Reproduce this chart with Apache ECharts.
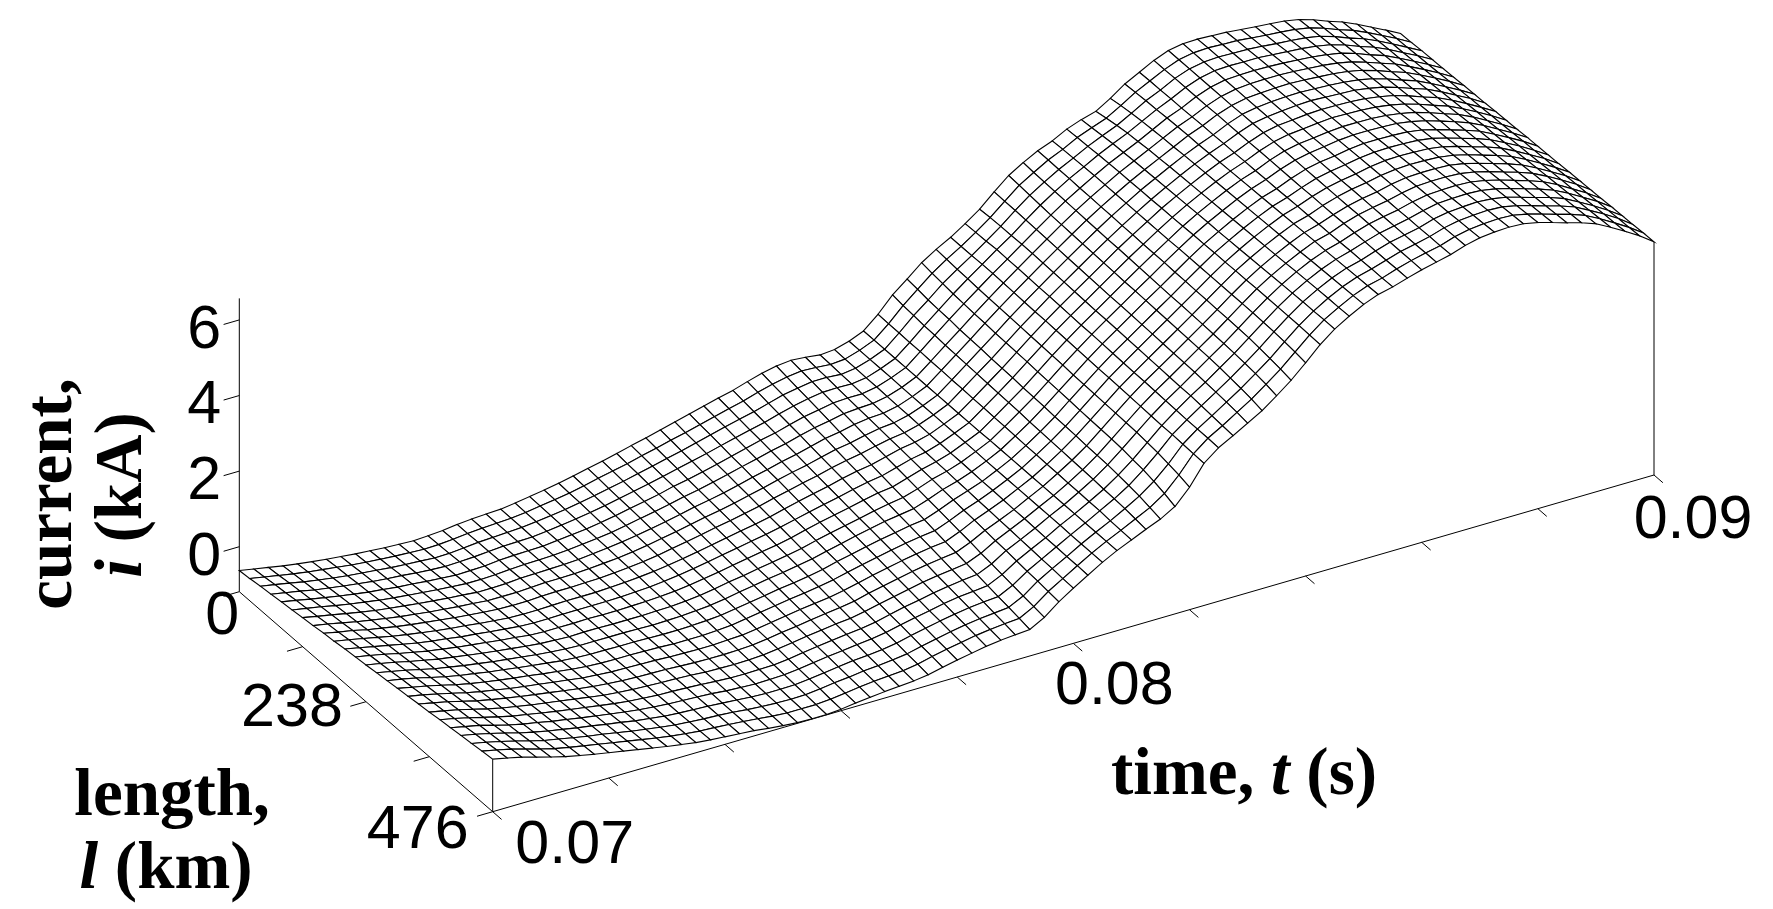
<!DOCTYPE html>
<html><head><meta charset="utf-8">
<style>html,body{margin:0;padding:0;background:#fff}#c{width:1773px;height:909px}</style>
<script src="https://cdn.jsdelivr.net/npm/echarts@6/dist/echarts.min.js"></script>
</head><body><div id="c"></div>
<script>
const timeStartS = 0.07, timeEndS = 0.09, lengthEndKm = 476;
const timeTicks = [0.07,0.072,0.074,0.076,0.078,0.08,0.082,0.084,0.086,0.088,0.09];
const timeLabels = [0.07,0.08,0.09];
const lengthTicks = [0,119,238,357,476];
const lengthLabels = [0,238,476];
const currentTicks = [0,2,4,6];
const currentFloorKA = -1.19, currentAxisTopKA = 6.57;
// current in hundredths of a kA: one inner list per time sample, from l = 0 km to l = 476 km
const currentCentiKA = [
[-63,-60,-56,-53,-49,-46,-42,-39,-35,-32,-28,-25,-22,-18,-15,-11,-8,-4,-1,3,6,10,13,17,20],
[-70,-67,-63,-60,-56,-53,-50,-46,-43,-39,-36,-32,-29,-26,-22,-19,-15,-12,-9,-5,-2,2,5,9,12],
[-77,-74,-70,-67,-64,-60,-57,-54,-50,-47,-44,-40,-37,-34,-30,-27,-24,-20,-17,-14,-10,-7,-4,0,3],
[-84,-81,-78,-75,-71,-68,-65,-62,-59,-55,-52,-49,-46,-43,-40,-36,-33,-30,-27,-24,-21,-17,-14,-11,-8],
[-90,-87,-84,-81,-78,-75,-72,-69,-66,-63,-60,-57,-54,-52,-49,-46,-43,-40,-37,-34,-31,-28,-25,-22,-19],
[-95,-92,-90,-87,-84,-81,-79,-76,-73,-70,-68,-65,-62,-59,-57,-54,-51,-48,-46,-43,-40,-37,-35,-32,-29],
[-100,-97,-95,-92,-90,-87,-84,-82,-79,-76,-74,-71,-68,-66,-63,-61,-58,-55,-53,-50,-47,-45,-42,-40,-37],
[-104,-102,-99,-97,-94,-92,-89,-87,-84,-82,-79,-77,-74,-72,-70,-67,-65,-62,-60,-57,-55,-52,-50,-47,-45],
[-108,-106,-103,-101,-99,-96,-94,-92,-89,-87,-85,-82,-80,-78,-75,-73,-71,-68,-66,-64,-61,-59,-57,-54,-52],
[-111,-109,-107,-104,-102,-100,-98,-96,-94,-91,-89,-87,-85,-83,-81,-78,-76,-74,-72,-70,-68,-65,-63,-61,-59],
[-114,-112,-110,-108,-106,-104,-102,-100,-98,-96,-94,-92,-90,-88,-86,-84,-82,-80,-78,-76,-74,-72,-70,-68,-66],
[-116,-114,-112,-111,-109,-107,-105,-103,-102,-100,-98,-96,-95,-93,-91,-89,-87,-86,-84,-82,-80,-78,-77,-75,-73],
[-118,-116,-115,-113,-112,-110,-109,-107,-105,-104,-102,-101,-99,-97,-96,-94,-93,-91,-90,-88,-86,-85,-83,-82,-80],
[-116,-115,-114,-112,-111,-110,-109,-107,-106,-105,-104,-103,-101,-100,-99,-98,-96,-95,-94,-93,-91,-90,-89,-88,-86],
[-113,-112,-111,-110,-110,-109,-108,-107,-106,-105,-104,-103,-103,-102,-101,-100,-99,-98,-97,-96,-95,-95,-94,-93,-92],
[-108,-108,-107,-107,-106,-106,-105,-105,-104,-104,-103,-103,-102,-102,-101,-101,-100,-100,-99,-99,-98,-98,-97,-97,-96],
[-105,-105,-105,-104,-104,-104,-104,-103,-103,-103,-103,-102,-102,-102,-102,-101,-101,-101,-101,-100,-100,-100,-100,-99,-99],
[-103,-103,-103,-103,-103,-103,-103,-103,-103,-103,-103,-103,-103,-102,-102,-102,-102,-102,-102,-102,-102,-102,-102,-102,-102],
[-101,-101,-101,-102,-102,-102,-102,-102,-102,-103,-103,-103,-103,-103,-103,-103,-104,-104,-104,-104,-104,-105,-105,-105,-105],
[-96,-97,-97,-98,-98,-99,-100,-100,-101,-101,-102,-102,-103,-104,-104,-105,-105,-106,-107,-107,-108,-108,-109,-109,-110],
[-90,-91,-92,-93,-94,-95,-96,-97,-98,-99,-100,-101,-102,-103,-104,-105,-106,-107,-108,-109,-110,-111,-112,-113,-114],
[-84,-85,-87,-88,-90,-91,-92,-94,-95,-96,-98,-99,-101,-102,-103,-105,-106,-107,-109,-110,-112,-113,-114,-116,-117],
[-77,-79,-80,-82,-84,-86,-87,-89,-91,-92,-94,-96,-98,-99,-101,-103,-104,-106,-108,-109,-111,-113,-115,-116,-118],
[-69,-71,-73,-75,-77,-79,-81,-83,-85,-87,-89,-91,-94,-96,-98,-100,-102,-104,-106,-108,-110,-112,-114,-116,-118],
[-60,-62,-65,-67,-69,-71,-74,-76,-78,-81,-83,-85,-88,-90,-92,-94,-97,-99,-101,-104,-106,-108,-110,-113,-115],
[-52,-54,-57,-59,-62,-64,-67,-69,-71,-74,-76,-79,-81,-83,-86,-88,-91,-93,-96,-98,-100,-103,-105,-108,-110],
[-43,-46,-48,-51,-54,-56,-59,-61,-64,-67,-69,-72,-75,-77,-80,-82,-85,-88,-90,-93,-95,-98,-101,-103,-106],
[-33,-36,-39,-42,-44,-47,-50,-53,-56,-59,-62,-65,-68,-70,-73,-76,-79,-82,-85,-88,-91,-93,-96,-99,-102],
[-24,-27,-30,-33,-37,-40,-43,-46,-49,-52,-55,-58,-62,-65,-68,-71,-74,-77,-80,-83,-86,-90,-93,-96,-99],
[-14,-17,-21,-24,-28,-31,-35,-38,-41,-45,-48,-52,-55,-58,-62,-65,-69,-72,-76,-79,-82,-86,-89,-93,-96],
[-4,-8,-11,-15,-19,-22,-26,-29,-33,-37,-40,-44,-48,-51,-55,-58,-62,-66,-69,-73,-76,-80,-84,-87,-91],
[6,2,-1,-5,-9,-12,-16,-20,-23,-27,-31,-34,-38,-42,-45,-49,-53,-56,-60,-64,-67,-71,-75,-78,-82],
[16,12,9,5,1,-3,-7,-10,-14,-18,-22,-25,-29,-33,-37,-40,-44,-48,-52,-55,-59,-63,-67,-70,-74],
[26,22,18,14,11,7,3,-1,-5,-9,-13,-17,-21,-24,-28,-32,-36,-40,-44,-48,-52,-55,-59,-63,-67],
[35,31,27,23,19,15,11,7,3,-1,-5,-9,-13,-16,-20,-24,-28,-32,-36,-40,-44,-48,-52,-56,-60],
[47,43,38,34,30,26,21,17,13,9,4,0,-4,-8,-13,-17,-21,-25,-30,-34,-38,-42,-47,-51,-55],
[58,53,49,44,40,35,31,26,21,17,12,8,3,-2,-6,-11,-15,-20,-25,-29,-34,-38,-43,-47,-52],
[66,61,56,52,47,42,37,32,28,23,18,13,9,4,-1,-6,-11,-15,-20,-25,-30,-35,-39,-44,-49],
[70,66,62,58,54,50,46,41,37,33,29,25,21,17,13,9,5,1,-4,-8,-12,-16,-20,-24,-28],
[67,64,62,59,56,53,51,48,45,43,40,37,35,32,29,26,24,21,18,16,13,10,8,5,2],
[62,61,59,58,56,55,53,52,50,49,47,46,45,43,42,40,39,37,36,34,33,31,30,28,27],
[65,64,64,63,63,62,61,61,60,59,59,58,58,57,56,56,55,54,54,53,52,52,51,51,50],
[76,76,76,76,76,75,75,75,75,75,75,75,75,74,74,74,74,74,74,74,74,73,73,73,73],
[92,92,92,92,92,92,92,92,92,92,92,92,93,93,93,93,93,93,93,93,93,93,93,93,93],
[125,124,124,123,123,122,122,121,121,120,120,119,119,118,117,117,116,116,115,115,114,114,112,111,110],
[165,161,159,156,155,153,152,151,150,149,148,147,146,144,143,142,141,140,139,138,136,135,133,130,127],
[196,193,189,187,186,183,182,181,179,178,177,175,174,173,171,170,169,167,166,165,162,159,155,149,143],
[228,224,221,218,216,214,213,211,210,209,208,206,205,204,203,201,200,199,198,196,192,189,183,175,165],
[252,250,248,247,245,244,243,242,241,240,239,238,237,235,234,233,232,231,230,229,226,223,218,213,205],
[273,273,273,274,274,273,272,271,270,270,269,268,267,266,265,265,264,263,262,261,260,260,259,258,257],
[298,299,300,302,301,301,300,299,299,298,297,296,296,295,294,293,292,292,291,290,289,288,288,288,287],
[325,327,328,328,329,329,328,327,326,325,324,323,323,322,321,320,319,318,317,316,316,314,312,310,308],
[360,359,359,358,357,356,355,354,353,352,351,350,350,349,348,347,346,345,344,343,341,339,337,334,330],
[392,390,388,386,384,383,382,381,380,379,378,377,377,376,375,374,373,372,371,370,368,365,362,358,352],
[415,413,412,411,410,409,408,407,406,406,405,404,403,402,401,401,400,399,398,397,395,393,390,386,380],
[435,435,434,434,433,433,432,432,431,431,430,430,430,429,429,428,428,427,427,426,425,422,419,415,410],
[450,452,453,454,455,455,455,455,455,455,455,455,456,456,456,456,456,456,456,456,455,454,452,449,445],
[470,472,473,475,476,477,477,478,478,479,479,480,481,481,482,482,483,483,484,484,484,484,484,483,482],
[484,487,490,493,494,496,497,498,499,500,501,502,503,503,504,505,506,507,508,509,510,511,511,512,512],
[495,501,506,510,512,515,516,518,519,520,521,522,523,524,525,526,527,528,529,531,532,533,534,534,535],
[518,523,527,530,532,534,535,537,538,539,540,541,542,543,544,545,546,547,548,550,551,552,553,554,555],
[545,547,549,550,552,553,554,554,555,556,557,558,559,560,561,562,563,564,565,565,566,567,568,569,570],
[565,566,566,567,567,568,569,569,570,570,571,571,572,572,573,574,574,575,575,576,577,577,578,578,579],
[585,585,586,586,586,586,587,587,587,587,588,588,588,588,588,589,589,589,590,590,590,590,590,591,591],
[600,600,600,600,600,600,600,601,601,601,601,601,601,601,601,601,601,601,602,602,602,602,602,602,602],
[607,607,607,608,608,608,608,608,608,609,609,609,609,609,609,609,610,610,610,610,610,610,610,611,611],
[608,609,609,610,610,611,611,612,612,612,613,613,614,614,615,615,616,616,617,617,618,618,619,619,620],
[606,607,608,609,611,612,613,614,615,616,617,618,620,621,622,623,624,625,626,627,628,630,631,632,633],
[604,606,607,609,610,612,614,615,617,618,620,621,623,625,626,628,629,631,633,634,636,637,639,640,642],
[600,602,604,606,608,610,612,613,615,617,619,621,623,625,627,629,631,633,635,636,638,640,642,644,646],
[596,598,600,603,605,607,609,611,613,616,618,620,622,624,626,628,630,633,635,637,639,642,644,646,648],
[593,595,597,600,602,604,606,608,611,613,615,617,620,622,624,626,628,631,633,635,637,639,642,644,646],
[589,591,593,595,597,599,601,603,605,607,609,611,614,616,618,620,622,624,626,628,630,632,634,636,638],
[582,584,586,588,590,591,593,595,597,599,601,603,605,606,608,610,612,614,616,618,620,621,623,625,627],
[570,572,574,576,578,579,581,583,585,587,589,591,593,594,596,598,600,602,604,606,608,609,611,613,615],
[555,557,559,561,563,565,567,569,571,573,575,577,580,582,584,586,588,590,592,594,596,598,600,602,604],
[542,544,546,548,550,552,554,556,558,560,562,564,566,568,570,572,574,576,578,580,582,584,586,588,590],
[525,527,529,531,532,534,536,538,540,542,544,546,548,549,551,553,555,557,559,561,563,564,566,568,570],
[506,508,510,511,513,515,517,518,520,522,524,525,527,529,531,532,534,536,538,539,541,543,545,546,548],
[487,489,490,492,493,495,497,498,500,501,503,504,506,508,509,511,512,514,516,517,519,520,522,523,525],
[467,468,470,471,472,473,475,476,477,479,480,481,483,484,485,486,488,489,490,491,493,494,495,497,498]
];
const currentTitle = ['{b|current,}','{i|i} {b|(kA)}'];
const lengthTitle = ['{b|length,}','{i|l} {b|(km)}'];
const timeTitle = ['{b|time,} {i|t} {b|(s)}'];

const style = {
  originX: 239.3, originY: 591.7,
  timeDX: 1161.3, timeDY: -336.7,
  lengthDX: 253.4, lengthDY: 220,
  pxPerKA: 37.8
};
function project(t, l, i) {
  const u = (t - timeStartS) / (timeEndS - timeStartS), v = l / lengthEndKm;
  return [style.originX + u * style.timeDX + v * style.lengthDX,
          style.originY + u * style.timeDY + v * style.lengthDY - (i - currentFloorKA) * style.pxPerKA];
}
const nT = currentCentiKA.length, nL = currentCentiKA[0].length;
const timeAt = j => timeStartS + (timeEndS - timeStartS) * j / (nT - 1);
const lengthAt = k => lengthEndKm * k / (nL - 1);
const kaAt = (j, k) => currentCentiKA[j][k] / 100;

const cells = [];
for (let j = nT - 2; j >= 0; j--) for (let k = 0; k < nL - 1; k++) cells.push([j, k]);

const tickT = 0.00027, tickL = 16.7;
const segs = [];
segs.push([timeStartS, 0, currentFloorKA, timeStartS, 0, currentAxisTopKA]);
segs.push([timeStartS, 0, currentFloorKA, timeStartS, lengthEndKm, currentFloorKA]);
segs.push([timeStartS, lengthEndKm, currentFloorKA, timeEndS, lengthEndKm, currentFloorKA]);
segs.push([timeStartS, lengthEndKm, currentFloorKA, timeStartS, lengthEndKm, kaAt(0, nL - 1)]);
segs.push([timeEndS, lengthEndKm, currentFloorKA, timeEndS, lengthEndKm, kaAt(nT - 1, nL - 1)]);
currentTicks.forEach(c => segs.push([timeStartS, 0, c, timeStartS - tickT, 0, c]));
lengthTicks.forEach(l => segs.push([timeStartS, l, currentFloorKA, timeStartS - tickT, l, currentFloorKA]));
timeTicks.forEach(t => segs.push([t, lengthEndKm, currentFloorKA, t, lengthEndKm + tickL, currentFloorKA]));

const labelOffsets = {
  current: [-35, 11], length: [[-17, 25], [-74, 7], [-75, 19]], time: [[82, 34], [41, 44], [39, 46]]
};
const labels = [];
currentTicks.forEach(c => { const p = project(timeStartS, 0, c); labels.push([String(c), p[0] + labelOffsets.current[0], p[1] + labelOffsets.current[1]]); });
lengthLabels.forEach((l, n) => { const p = project(timeStartS, l, currentFloorKA); labels.push([String(l), p[0] + labelOffsets.length[n][0], p[1] + labelOffsets.length[n][1]]); });
timeLabels.forEach((t, n) => { const p = project(t, lengthEndKm, currentFloorKA); labels.push([t.toFixed(2), p[0] + labelOffsets.time[n][0], p[1] + labelOffsets.time[n][1]]); });

const titleRich = {
  b: { fontFamily: 'Liberation Serif', fontWeight: 'bold', fontSize: 67, fill: '#000', lineHeight: 70 },
  i: { fontFamily: 'Liberation Serif', fontWeight: 'bold', fontStyle: 'italic', fontSize: 67, fill: '#000', lineHeight: 70 }
};
const titles = [
  [currentTitle[0], 54, 494, 1],
  [currentTitle[1], 124, 495, 1],
  [lengthTitle[0], 172, 798, 0],
  [lengthTitle[1], 166, 871, 0],
  [timeTitle[0], 1244, 777, 0]
];

const chart = echarts.init(document.getElementById('c'), null, { renderer: 'canvas' });
chart.setOption({
  backgroundColor: '#fff',
  animation: false,
  grid: { left: 0, right: 0, top: 0, bottom: 0 },
  xAxis: { type: 'value', min: 0, max: 1773, show: false },
  yAxis: { type: 'value', min: 0, max: 909, inverse: true, show: false },
  series: [
    { type: 'custom', coordinateSystem: 'cartesian2d', clip: false, silent: true, progressive: 0, z: 1,
      data: segs,
      renderItem(params, api) {
        const a = api.coord(project(api.value(0), api.value(1), api.value(2)));
        const b = api.coord(project(api.value(3), api.value(4), api.value(5)));
        return { type: 'line', shape: { x1: a[0], y1: a[1], x2: b[0], y2: b[1] }, style: { stroke: '#000', lineWidth: 1 } };
      } },
    { type: 'custom', coordinateSystem: 'cartesian2d', clip: false, silent: true, progressive: 0, z: 2,
      data: cells,
      renderItem(params, api) {
        const j = api.value(0), k = api.value(1);
        const pts = [[j, k], [j + 1, k], [j + 1, k + 1], [j, k + 1]]
          .map(q => api.coord(project(timeAt(q[0]), lengthAt(q[1]), kaAt(q[0], q[1]))));
        return { type: 'polygon', shape: { points: pts }, style: { fill: '#fff', stroke: '#000', lineWidth: 1.1 } };
      } },
    { type: 'custom', coordinateSystem: 'cartesian2d', clip: false, silent: true, progressive: 0, z: 3,
      data: labels.map((r, n) => [n]),
      renderItem(params, api) {
        const r = labels[api.value(0)], p = api.coord([r[1], r[2]]);
        return { type: 'text', x: p[0], y: p[1], style: { text: r[0], fontFamily: 'Liberation Sans', fontSize: 61, fill: '#000', align: 'center', verticalAlign: 'middle' } };
      } },
    { type: 'custom', coordinateSystem: 'cartesian2d', clip: false, silent: true, progressive: 0, z: 3,
      data: titles.map((r, n) => [n]),
      renderItem(params, api) {
        const r = titles[api.value(0)], p = api.coord([r[1], r[2]]);
        return { type: 'text', x: p[0], y: p[1], rotation: r[3] ? Math.PI / 2 : 0,
          style: { text: r[0], rich: titleRich, fontFamily: 'Liberation Serif', fontWeight: 'bold', fontSize: 67, fill: '#000', align: 'center', verticalAlign: 'middle' } };
      } }
  ]
});
</script></body></html>
